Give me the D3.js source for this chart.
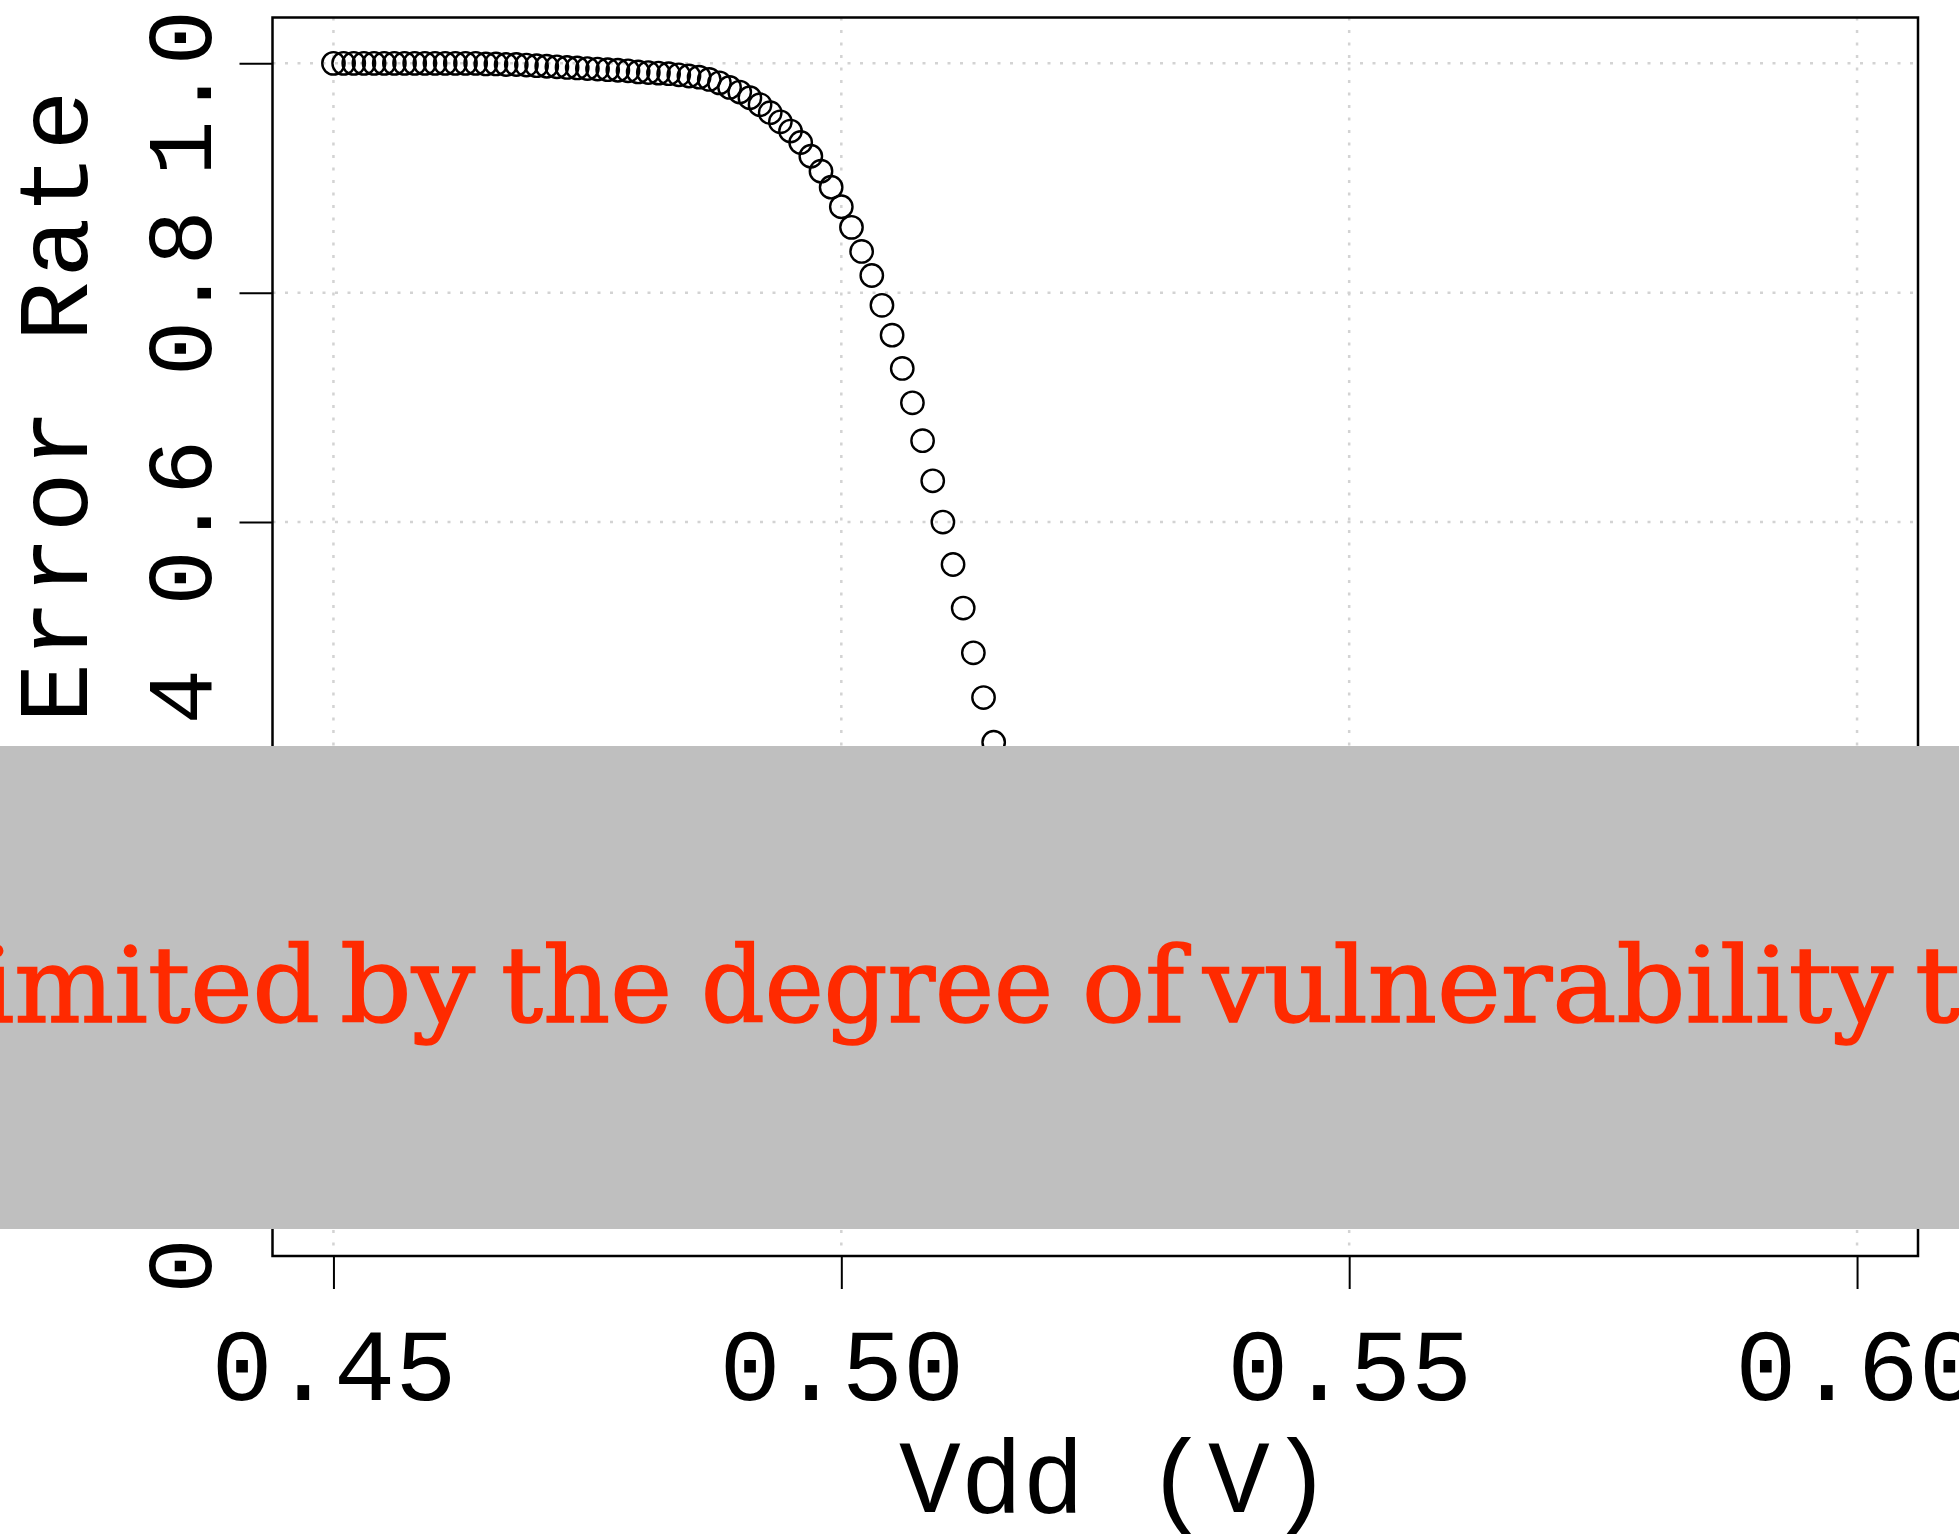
<!DOCTYPE html>
<html>
<head>
<meta charset="utf-8">
<script src="https://cdn.jsdelivr.net/npm/d3@7"></script>
<style>
  html, body { margin: 0; padding: 0; background: #ffffff; }
  svg { display: block; }
</style>
</head>
<body>
<svg id="chart" width="1959" height="1539"></svg>
<script>
// ---- data ----
const vdd = [
  0.450, 0.451, 0.452, 0.453, 0.454, 0.455, 0.456, 0.457, 0.458, 0.459,
  0.460, 0.461, 0.462, 0.463, 0.464, 0.465, 0.466, 0.467, 0.468, 0.469,
  0.470, 0.471, 0.472, 0.473, 0.474, 0.475, 0.476, 0.477, 0.478, 0.479,
  0.480, 0.481, 0.482, 0.483, 0.484, 0.485, 0.486, 0.487, 0.488, 0.489,
  0.490, 0.491, 0.492, 0.493, 0.494, 0.495, 0.496, 0.497, 0.498, 0.499,
  0.500, 0.501, 0.502, 0.503, 0.504, 0.505, 0.506, 0.507, 0.508, 0.509,
  0.510, 0.511, 0.512, 0.513, 0.514, 0.515
];
const errorRate = [
  1.000, 1.000, 1.000, 1.000, 1.000, 1.000, 1.000, 1.000, 1.000, 1.000,
  1.000, 1.000, 1.000, 1.000, 1.000, 0.9995, 0.9995, 0.999, 0.999, 0.9985,
  0.998, 0.9975, 0.997, 0.9965, 0.996, 0.9955, 0.995, 0.9945, 0.994, 0.9935,
  0.9925, 0.992, 0.9915, 0.991, 0.990, 0.989, 0.988, 0.986, 0.983, 0.979,
  0.975, 0.970, 0.964, 0.957, 0.949, 0.941, 0.931, 0.919, 0.906, 0.892,
  0.875, 0.857, 0.836, 0.815, 0.789, 0.763, 0.734, 0.704, 0.671, 0.636,
  0.600, 0.563, 0.525, 0.486, 0.447, 0.408
];
const xTicks = [0.45, 0.50, 0.55, 0.60];
const xTickLabels = ["0.45", "0.50", "0.55", "0.60"];
const yTicks = [0.0, 0.2, 0.4, 0.6, 0.8, 1.0];
const yTickLabels = ["0.0", "0.2", "0.4", "0.6", "0.8", "1.0"];
const xDomain = [0.444, 0.606];
const yDomain = [-0.04, 1.04];
const xTitle = "Vdd (V)";
const yTitle = "Error Rate";
const bannerWords = ["limited", "by", "the", "degree", "of", "vulnerability", "to"];

// ---- layout ----
const W = 1959, H = 1539;
const plot = { left: 272.5, right: 1918, top: 17.5, bottom: 1256 };
const mono = "'Courier New', 'Liberation Mono', monospace";

const svg = d3.select("#chart");
svg.append("rect").attr("x", 0).attr("y", 0).attr("width", W).attr("height", H).attr("fill", "#ffffff");

const x = d3.scaleLinear().domain(xDomain).range([plot.left, plot.right]);
const y = d3.scaleLinear().domain(yDomain).range([plot.bottom, plot.top]);

// grid
const grid = svg.append("g").attr("class", "grid");
grid.selectAll("line.v").data(xTicks).join("line")
  .attr("x1", d => x(d)).attr("x2", d => x(d))
  .attr("y1", plot.top).attr("y2", plot.bottom)
  .attr("stroke", "#d3d3d3").attr("stroke-width", 2.5)
  .attr("stroke-dasharray", "3,9.5");
grid.selectAll("line.h").data(yTicks).join("line")
  .attr("x1", plot.left).attr("x2", plot.right)
  .attr("y1", d => y(d)).attr("y2", d => y(d))
  .attr("stroke", "#d3d3d3").attr("stroke-width", 2.5)
  .attr("stroke-dasharray", "3,9.5");

// points
const pts = vdd.map((v, i) => ({ v, e: errorRate[i] }));
svg.append("g").selectAll("circle").data(pts).join("circle")
  .attr("cx", d => x(d.v)).attr("cy", d => y(d.e))
  .attr("r", 11.2)
  .attr("fill", "none").attr("stroke", "#000").attr("stroke-width", 2.4);

// box
svg.append("rect")
  .attr("x", plot.left).attr("y", plot.top)
  .attr("width", plot.right - plot.left).attr("height", plot.bottom - plot.top)
  .attr("fill", "none").attr("stroke", "#000").attr("stroke-width", 2.5);

// x axis
const xAxis = d3.axisBottom(x).tickValues(xTicks)
  .tickFormat((d, i) => xTickLabels[i]).tickSize(33).tickSizeOuter(0);
const gx = svg.append("g").attr("transform", `translate(0,${plot.bottom})`).call(xAxis);
gx.select(".domain").remove();
gx.selectAll(".tick line").attr("stroke", "#000").attr("stroke-width", 2);
gx.selectAll(".tick text")
  .attr("y", 144).attr("dy", 0)
  .attr("font-family", mono).attr("font-size", 102).attr("fill", "#000")
  .attr("text-anchor", "middle");

// y axis
const yAxis = d3.axisLeft(y).tickValues(yTicks)
  .tickFormat((d, i) => yTickLabels[i]).tickSize(33).tickSizeOuter(0);
const gy = svg.append("g").attr("transform", `translate(${plot.left},0)`).call(yAxis);
gy.select(".domain").remove();
gy.selectAll(".tick line").attr("stroke", "#000").attr("stroke-width", 2);
const yLabelX = 211 - plot.left;
gy.selectAll(".tick text")
  .attr("x", 0).attr("y", 0).attr("dy", 0)
  .attr("transform", `translate(${yLabelX},0) rotate(-90)`)
  .attr("font-family", mono).attr("font-size", 92).attr("fill", "#000")
  .attr("text-anchor", "middle");
// keep the top label inside the picture
gy.selectAll(".tick text").each(function () {
  const r = this.getBoundingClientRect();
  if (r.top < 10) {
    const shift = 10 - r.top;
    d3.select(this).attr("transform", `translate(${yLabelX},${shift}) rotate(-90)`);
  }
});

// titles
svg.append("text")
  .attr("x", (plot.left + plot.right) / 2 + 20).attr("y", 1512)
  .attr("text-anchor", "middle")
  .attr("font-family", mono).attr("font-size", 103).attr("fill", "#000")
  .text(xTitle);
svg.append("text")
  .attr("transform", "translate(87,87) rotate(-90)")
  .attr("text-anchor", "end")
  .attr("font-family", mono).attr("font-size", 100)
  .attr("letter-spacing", 3.6).attr("fill", "#000")
  .text(yTitle);

// overlay banner
svg.append("rect").attr("x", 0).attr("y", 746).attr("width", W).attr("height", 1229 - 746)
  .attr("fill", "#bfbfbf");
const wordBoxes = [[-53, 320], [340, 475], [501, 672], [701, 1053], [1082, 1184], [1203, 1893], [1915, 2028]];
svg.append("g").selectAll("text").data(bannerWords).join("text")
  .attr("x", (d, i) => wordBoxes[i][0])
  .attr("y", 1022)
  .attr("textLength", (d, i) => wordBoxes[i][1] - wordBoxes[i][0])
  .attr("lengthAdjust", "spacingAndGlyphs")
  .attr("font-family", "'American Typewriter', 'DejaVu Serif', serif")
  .attr("font-size", 104)
  .attr("fill", "#ff2a00")
  .attr("stroke", "#ff2a00").attr("stroke-width", 1.6)
  .text(d => d);
</script>
</body>
</html>
